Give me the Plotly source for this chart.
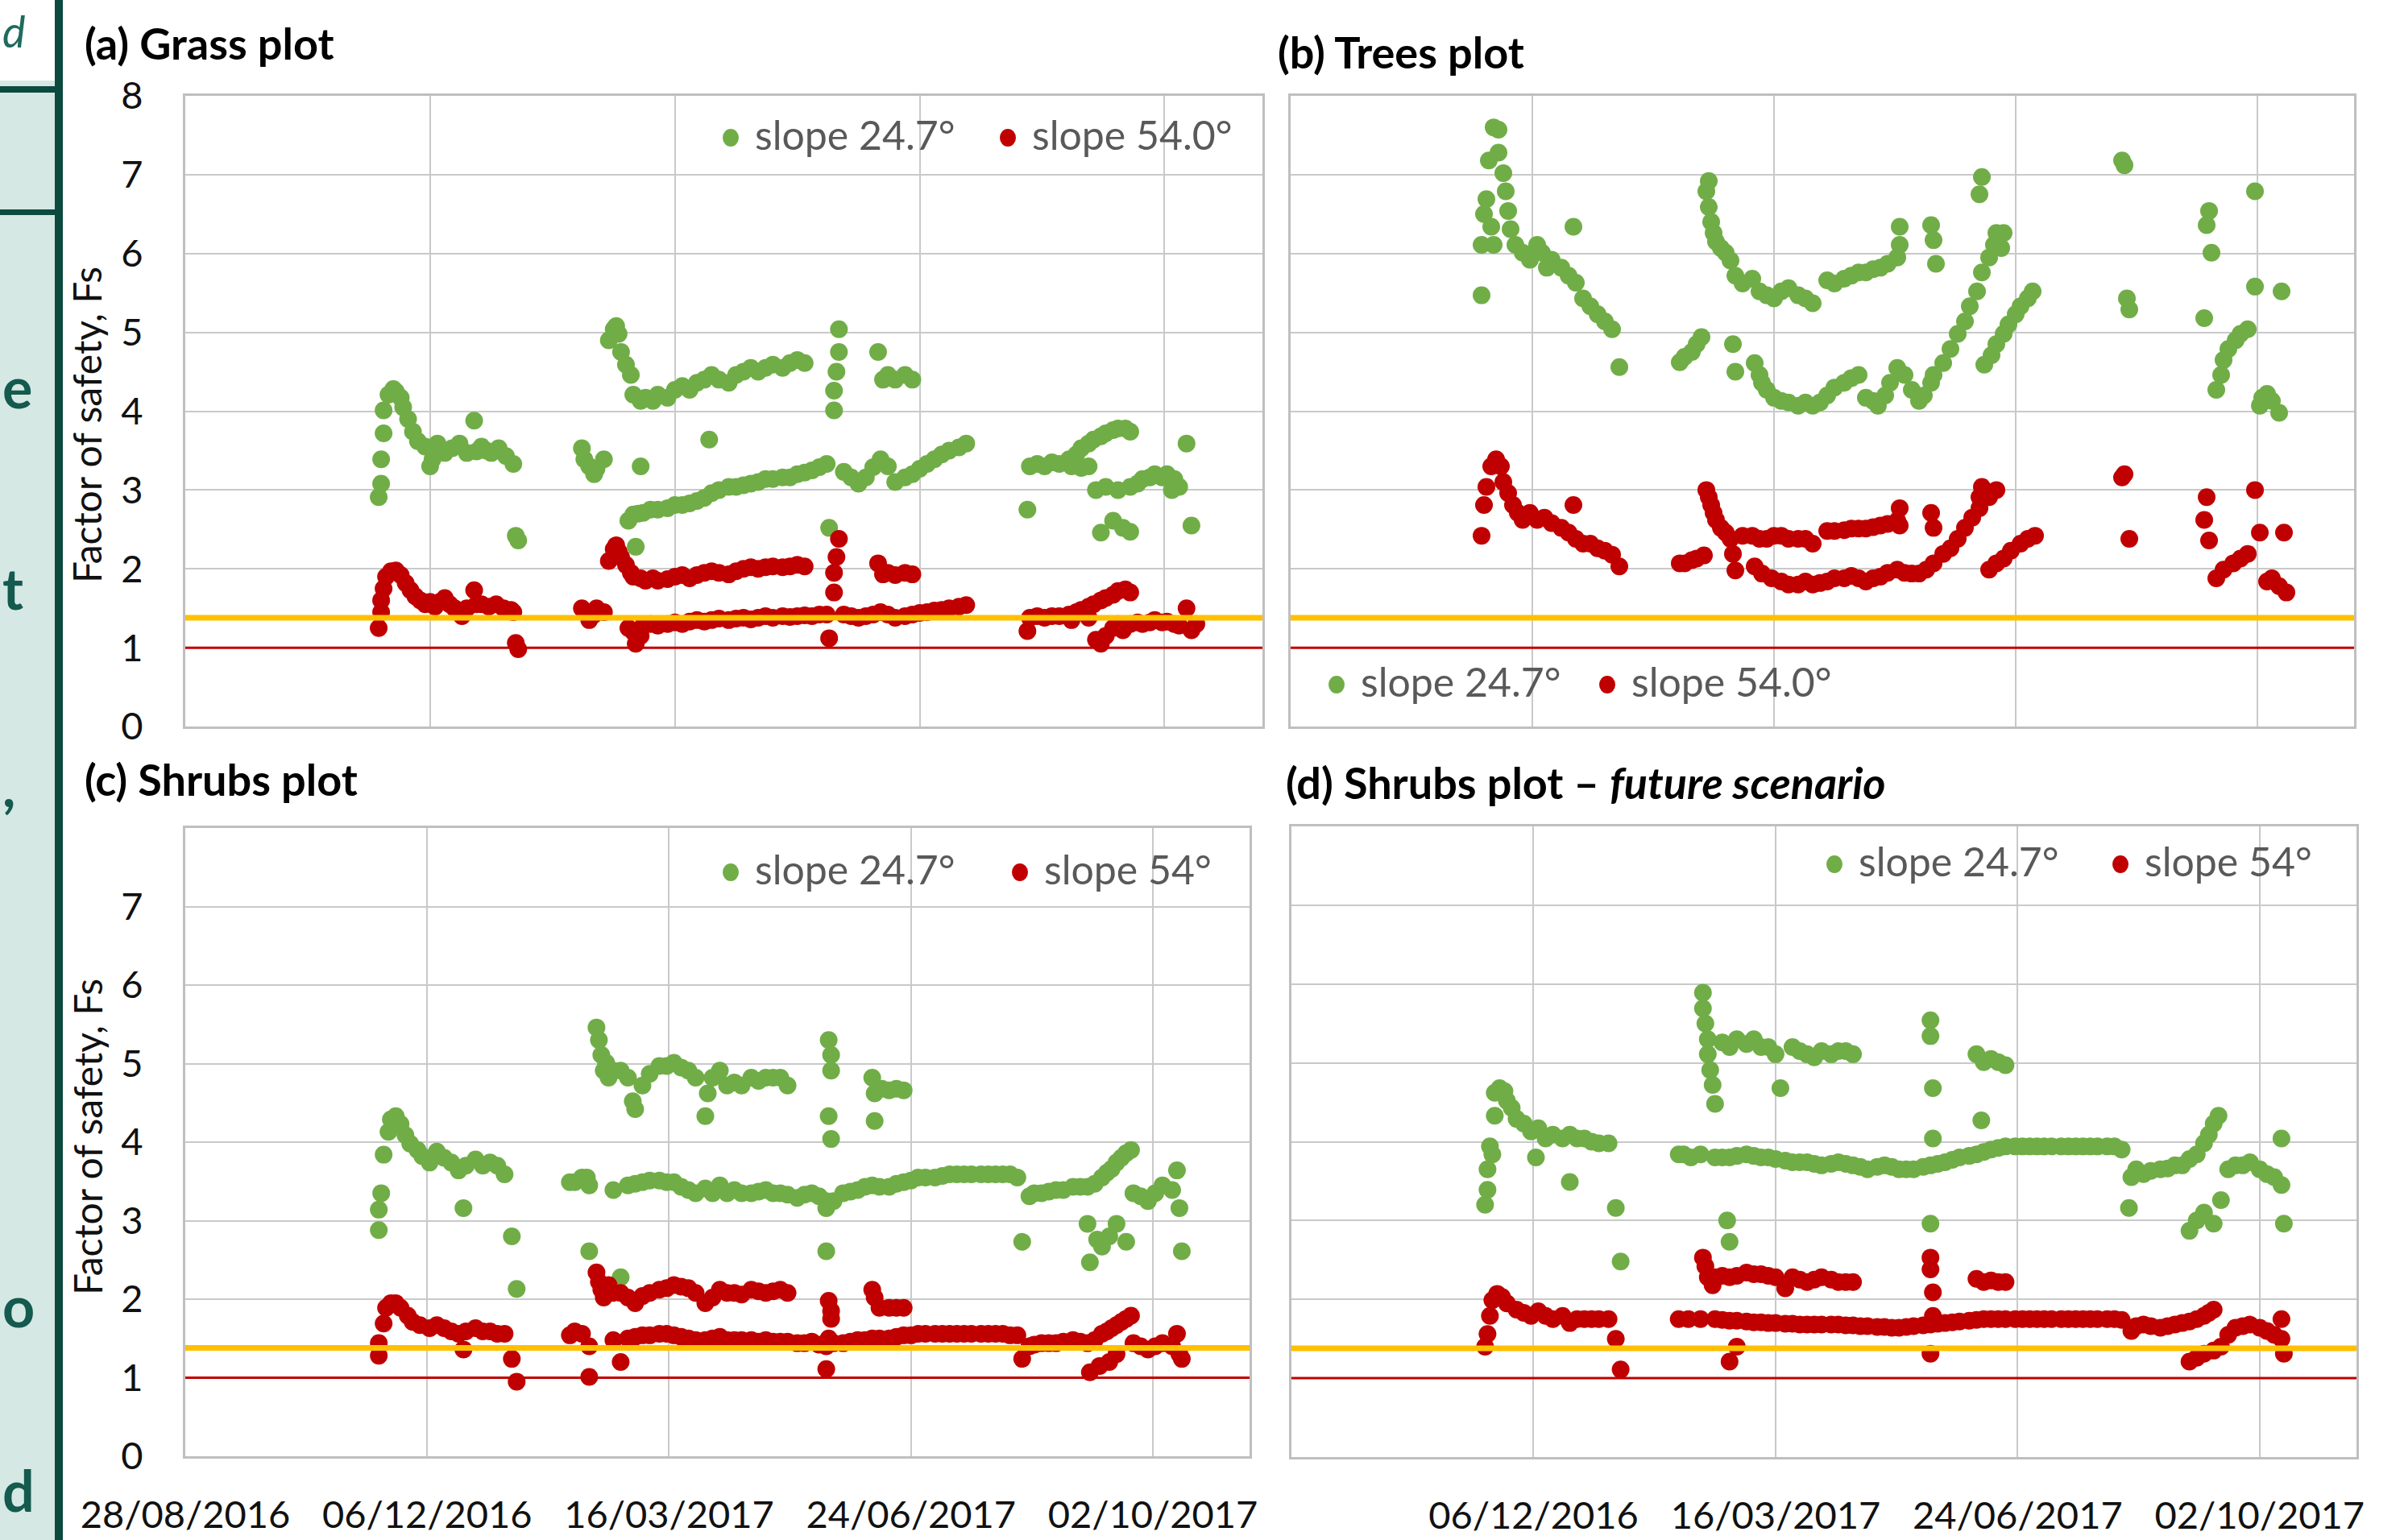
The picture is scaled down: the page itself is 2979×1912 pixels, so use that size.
import datetime as dt
import plotly.graph_objects as go

W, H = 2979, 1912
FONT = "Lato"
START = dt.date(2016, 8, 28)
END = dt.date(2017, 11, 11)
TICK_DATES = ["2016-08-28", "2016-12-06", "2017-03-16", "2017-06-24", "2017-10-02"]
FS_LIMIT = 1.0
FS_TARGET = 1.38

GREEN = "#70AD47"
RED = "#C00000"
YELLOW = "#FFC000"
GRID = "#C9C9C9"
TEAL_DARK = "#0C4A40"
TEAL_LIGHT = "#D6E8E4"

# (day after 28/08/2016, factor of safety)
grass_green = [
    (79, 2.91), (80, 3.08), (80, 3.39), (81, 3.72), (81, 4.01), (83, 4.21), (85, 4.28), (86, 4.25),
    (88, 4.17), (89, 4.05), (91, 3.90), (93, 3.74), (95, 3.62), (98, 3.55), (100, 3.30), (101, 3.39),
    (103, 3.59), (106, 3.47), (109, 3.53), (112, 3.59), (115, 3.47), (118, 3.88), (119, 3.49), (121, 3.55),
    (123, 3.50), (125, 3.47), (128, 3.53), (131, 3.43), (134, 3.33), (135, 2.42), (136, 2.36),
    (162, 3.53), (163, 3.39), (165, 3.30), (167, 3.20), (168, 3.27), (171, 3.39),
    (173, 4.90), (175, 5.04), (176, 5.08), (177, 4.98), (178, 4.75), (180, 4.59), (182, 4.46), (183, 4.21),
    (186, 4.13), (188, 4.17), (191, 4.13), (193, 4.21), (197, 4.17), (200, 4.27), (203, 4.32), (206, 4.27),
    (209, 4.36), (212, 4.40), (215, 4.46), (218, 4.40), (222, 4.36), (225, 4.46), (228, 4.50), (231, 4.55),
    (234, 4.50), (237, 4.55), (240, 4.59), (244, 4.55), (247, 4.61), (250, 4.65), (253, 4.61),
    (214, 3.64),
    (181, 2.61), (183, 2.69), (185, 2.70), (187, 2.71), (190, 2.75), (193, 2.75), (197, 2.77), (200, 2.81),
    (203, 2.81), (206, 2.83), (209, 2.86), (212, 2.90), (215, 2.96), (218, 3.00), (222, 3.04), (225, 3.04),
    (228, 3.06), (231, 3.08), (234, 3.10), (237, 3.14), (240, 3.14), (244, 3.16), (247, 3.16), (250, 3.20),
    (253, 3.22), (256, 3.25), (259, 3.29), (262, 3.33),
    (184, 2.28), (186, 3.30), (263, 2.52),
    (265, 4.01), (265, 4.26), (266, 4.50), (267, 4.75), (267, 5.04),
    (269, 3.23), (272, 3.16), (275, 3.08), (278, 3.16), (281, 3.29), (284, 3.39), (287, 3.30), (290, 3.10),
    (294, 3.16), (297, 3.20), (300, 3.27), (303, 3.33), (306, 3.39), (309, 3.45), (312, 3.50), (316, 3.54),
    (319, 3.59),
    (283, 4.75), (285, 4.40), (287, 4.46), (290, 4.40), (294, 4.46), (297, 4.40),
    (344, 2.75), (345, 3.30), (348, 3.33), (351, 3.30), (354, 3.35), (357, 3.33), (361, 3.39), (364, 3.45),
    (366, 3.53), (369, 3.59), (371, 3.64), (374, 3.68), (376, 3.72), (379, 3.76), (381, 3.78), (384, 3.78),
    (386, 3.74),
    (362, 3.30), (366, 3.28), (369, 3.30), (372, 3.00), (374, 2.46), (376, 3.04), (379, 2.61), (381, 3.00),
    (383, 2.52), (386, 2.47), (386, 3.04), (389, 3.08), (391, 3.14), (394, 3.16), (396, 3.20), (399, 3.16),
    (401, 3.20), (403, 3.00), (404, 3.14), (406, 3.04), (409, 3.59), (411, 2.55),
]
grass_red = [
    (79, 1.25), (80, 1.45), (80, 1.60), (81, 1.75), (82, 1.90), (84, 1.97), (86, 1.98), (88, 1.92),
    (90, 1.82), (92, 1.73), (94, 1.65), (96, 1.60), (98, 1.55), (100, 1.58), (102, 1.52), (104, 1.58),
    (106, 1.63), (108, 1.55), (110, 1.50), (113, 1.40), (115, 1.50), (118, 1.73), (119, 1.55), (121, 1.55),
    (124, 1.52), (127, 1.55), (130, 1.50), (133, 1.48), (134, 1.45), (135, 1.06), (136, 0.98),
    (162, 1.50), (163, 1.45), (165, 1.35), (167, 1.42), (168, 1.50), (171, 1.45),
    (173, 2.10), (175, 2.25), (176, 2.30), (177, 2.22), (178, 2.15), (180, 2.05), (182, 1.95),
    (183, 1.90), (186, 1.88), (188, 1.85), (191, 1.88), (193, 1.85), (197, 1.87), (200, 1.90), (203, 1.92),
    (206, 1.88), (209, 1.92), (212, 1.95), (215, 1.97), (218, 1.95), (222, 1.93), (225, 1.97), (228, 2.00),
    (231, 2.02), (234, 2.00), (237, 2.02), (240, 2.03), (244, 2.02), (247, 2.03), (250, 2.05), (253, 2.03),
    (181, 1.25), (183, 1.20), (184, 1.05), (186, 1.15), (187, 1.28), (190, 1.30), (193, 1.28), (197, 1.30),
    (200, 1.32), (203, 1.30), (206, 1.33), (209, 1.35), (212, 1.33), (215, 1.35), (218, 1.37), (222, 1.35),
    (225, 1.37), (228, 1.38), (231, 1.36), (234, 1.38), (237, 1.40), (240, 1.38), (244, 1.40), (247, 1.39),
    (250, 1.40), (253, 1.41), (256, 1.40), (259, 1.42), (262, 1.42), (263, 1.12),
    (265, 1.70), (265, 1.95), (266, 2.15), (267, 2.38),
    (269, 1.42), (272, 1.40), (275, 1.38), (278, 1.40), (281, 1.42), (284, 1.45), (287, 1.42), (290, 1.38),
    (294, 1.40), (297, 1.42), (300, 1.44), (303, 1.45), (306, 1.47), (309, 1.48), (312, 1.50), (316, 1.52),
    (319, 1.54),
    (283, 2.07), (285, 1.93), (287, 1.95), (290, 1.92), (294, 1.95), (297, 1.93),
    (344, 1.21), (345, 1.38), (348, 1.40), (351, 1.38), (354, 1.40), (357, 1.40), (361, 1.42), (364, 1.45),
    (366, 1.48), (369, 1.52), (371, 1.55), (374, 1.60), (376, 1.63), (379, 1.67), (381, 1.72), (384, 1.74),
    (386, 1.70),
    (362, 1.35), (369, 1.38), (372, 1.10), (374, 1.05), (376, 1.15), (379, 1.25), (381, 1.30), (383, 1.22),
    (386, 1.30), (389, 1.32), (391, 1.30), (394, 1.32), (396, 1.35), (399, 1.32), (401, 1.33), (404, 1.30),
    (406, 1.28), (409, 1.50), (411, 1.22), (413, 1.30),
]

trees_green = [
    (79, 5.47), (79, 6.11), (80, 6.50), (81, 6.69), (82, 7.18), (83, 6.34), (84, 6.11), (84, 7.60),
    (86, 7.57), (86, 7.28), (88, 7.02), (89, 6.79), (90, 6.54), (91, 6.31), (93, 6.11), (96, 6.01),
    (99, 5.92), (102, 6.11), (104, 6.01), (106, 5.82), (108, 5.92), (112, 5.82), (115, 5.72), (117, 6.34),
    (118, 5.63), (121, 5.43), (124, 5.33), (127, 5.23), (130, 5.14), (133, 5.04), (136, 4.56),
    (161, 4.62), (163, 4.69), (166, 4.75), (168, 4.85), (170, 4.94),
    (172, 6.79), (173, 6.92), (173, 6.59), (174, 6.40), (175, 6.26), (176, 6.15), (178, 6.07), (180, 6.01),
    (182, 5.91), (183, 4.85), (184, 4.50),
    (184, 5.72), (187, 5.62), (191, 5.68), (194, 5.52), (197, 5.47), (200, 5.43), (203, 5.52), (206, 5.56),
    (210, 5.47), (213, 5.43), (216, 5.37),
    (192, 4.61), (194, 4.46), (195, 4.36), (197, 4.27), (200, 4.17), (203, 4.13), (206, 4.11), (210, 4.07),
    (213, 4.11), (216, 4.07), (219, 4.11), (222, 4.20), (225, 4.30), (229, 4.36), (232, 4.42), (235, 4.46),
    (238, 4.17), (241, 4.13), (243, 4.07), (246, 4.20), (248, 4.36), (251, 4.55), (254, 4.46), (257, 4.27),
    (260, 4.13), (262, 4.20), (265, 4.36), (266, 4.46), (270, 4.61), (273, 4.79), (276, 4.98), (279, 5.14),
    (281, 5.33), (284, 5.52), (286, 5.76), (289, 5.95), (291, 6.11), (292, 6.26),
    (222, 5.66), (225, 5.62), (229, 5.68), (232, 5.72), (235, 5.76), (238, 5.76), (241, 5.80), (244, 5.82),
    (247, 5.87), (251, 5.95), (252, 6.34), (252, 6.11),
    (265, 6.36), (266, 6.17), (267, 5.87), (286, 6.97), (285, 6.75), (295, 6.26), (294, 6.07),
    (287, 4.59), (290, 4.71), (292, 4.85), (295, 4.98), (297, 5.10), (300, 5.23), (302, 5.33), (305, 5.43),
    (307, 5.52),
    (344, 7.18), (345, 7.12), (346, 5.43), (347, 5.29),
    (378, 5.18), (379, 6.36), (380, 6.54), (381, 6.01), (383, 4.27), (385, 4.46), (386, 4.65), (388, 4.79),
    (391, 4.90), (393, 4.98), (396, 5.04), (399, 6.79), (399, 5.58), (401, 4.07), (402, 4.17), (404, 4.22),
    (406, 4.13), (409, 3.98), (410, 5.52),
]
trees_red = [
    (79, 2.42), (80, 2.81), (81, 3.04), (83, 3.30), (85, 3.39), (87, 3.30), (88, 3.10), (90, 2.96),
    (92, 2.81), (94, 2.71), (96, 2.62), (99, 2.71), (102, 2.62), (105, 2.65), (108, 2.58), (112, 2.52),
    (115, 2.46), (117, 2.81), (118, 2.38), (121, 2.32), (124, 2.32), (127, 2.26), (130, 2.23), (133, 2.18),
    (136, 2.03),
    (161, 2.07), (163, 2.07), (166, 2.11), (168, 2.13), (171, 2.17), (172, 3.00), (173, 2.91), (174, 2.81),
    (175, 2.71), (176, 2.62), (178, 2.52), (180, 2.46), (182, 2.38), (183, 2.19), (184, 1.98),
    (187, 2.42), (191, 2.42), (194, 2.38), (197, 2.38), (200, 2.42), (203, 2.42), (206, 2.38), (210, 2.38),
    (213, 2.38), (216, 2.32),
    (192, 2.03), (195, 1.94), (199, 1.88), (203, 1.84), (206, 1.80), (210, 1.80), (213, 1.84), (216, 1.80),
    (219, 1.82), (222, 1.84), (225, 1.88), (229, 1.88), (232, 1.91), (235, 1.88), (238, 1.84), (241, 1.88),
    (244, 1.90), (247, 1.95), (251, 1.99), (254, 1.95), (257, 1.94), (260, 1.94), (263, 1.99), (266, 2.07),
    (270, 2.19), (273, 2.26), (276, 2.38), (279, 2.52), (282, 2.65), (285, 2.77), (289, 2.91), (292, 3.00),
    (222, 2.48), (225, 2.48), (229, 2.49), (232, 2.51), (235, 2.51), (238, 2.51), (241, 2.53), (244, 2.55),
    (247, 2.57), (251, 2.61), (252, 2.77), (252, 2.55),
    (265, 2.71), (266, 2.52), (286, 3.04), (285, 2.91),
    (289, 1.99), (292, 2.07), (295, 2.13), (298, 2.23), (302, 2.32), (305, 2.38), (308, 2.42),
    (344, 3.16), (345, 3.20), (347, 2.38),
    (378, 2.62), (379, 2.91), (380, 2.36), (383, 1.88), (386, 1.99), (390, 2.07), (393, 2.13), (396, 2.19),
    (399, 3.00), (401, 2.46), (404, 1.84), (406, 1.88), (409, 1.78), (411, 2.46), (412, 1.70),
]

shrubs_green = [
    (80, 2.88), (80, 3.14), (81, 3.35), (82, 3.84), (84, 4.13), (85, 4.29), (87, 4.33), (89, 4.23),
    (91, 4.09), (93, 3.98), (96, 3.90), (98, 3.82), (101, 3.74), (104, 3.88), (107, 3.80), (110, 3.74),
    (113, 3.64), (115, 3.16), (116, 3.70), (120, 3.78), (123, 3.70), (126, 3.74), (129, 3.70), (132, 3.59),
    (135, 2.80), (137, 2.13),
    (159, 3.49), (161, 3.49), (164, 3.55), (166, 3.55), (167, 3.45), (167, 2.61),
    (170, 5.46), (171, 5.30), (172, 5.11), (173, 4.91), (174, 5.01), (175, 4.82), (177, 4.91), (180, 4.91),
    (183, 4.82), (185, 4.52), (186, 4.42), (189, 4.72), (192, 4.87), (196, 4.97), (199, 4.97), (202, 5.01),
    (205, 4.95), (208, 4.91), (211, 4.82), (215, 4.33), (216, 4.62), (218, 4.82), (221, 4.91), (224, 4.72),
    (227, 4.76), (230, 4.72), (234, 4.82), (237, 4.78), (240, 4.82), (243, 4.82), (246, 4.82), (249, 4.72),
    (177, 3.39), (180, 2.28), (183, 3.45), (186, 3.47), (189, 3.49), (192, 3.51), (196, 3.51), (199, 3.49),
    (202, 3.49), (205, 3.43), (208, 3.39), (211, 3.35), (215, 3.41), (218, 3.35), (221, 3.45), (224, 3.35),
    (227, 3.39), (230, 3.35), (234, 3.35), (237, 3.37), (240, 3.39), (243, 3.35), (246, 3.35), (249, 3.33),
    (253, 3.29), (256, 3.33), (259, 3.35), (262, 3.31), (265, 3.25),
    (266, 5.30), (267, 5.11), (267, 4.91), (266, 4.33), (267, 4.04), (265, 3.16), (265, 2.61),
    (268, 3.25), (272, 3.35), (275, 3.37), (278, 3.39), (281, 3.43), (284, 3.45), (287, 3.43), (291, 3.43),
    (294, 3.47), (297, 3.49), (300, 3.51), (303, 3.55), (306, 3.55), (310, 3.55), (313, 3.57), (316, 3.59),
    (319, 3.59), (322, 3.59), (325, 3.59), (329, 3.59), (332, 3.59), (335, 3.59), (338, 3.59), (341, 3.59),
    (344, 3.55),
    (284, 4.82), (285, 4.62), (285, 4.27), (288, 4.68), (291, 4.66), (294, 4.68), (297, 4.66),
    (346, 2.73), (349, 3.31), (351, 3.35), (354, 3.35), (357, 3.37), (360, 3.39), (363, 3.39), (367, 3.43),
    (370, 3.43), (373, 3.43), (376, 3.47), (379, 3.55), (381, 3.61), (383, 3.66), (385, 3.74), (387, 3.80),
    (389, 3.86), (391, 3.90),
    (373, 2.96), (374, 2.47), (377, 2.76), (379, 2.67), (382, 2.80), (385, 2.96), (389, 2.73), (392, 3.35),
    (395, 3.31), (398, 3.25), (401, 3.35), (404, 3.45), (408, 3.39), (410, 3.64), (411, 3.16), (412, 2.61),
]
shrubs_red = [
    (80, 1.28), (80, 1.44), (82, 1.69), (83, 1.89), (85, 1.95), (87, 1.95), (89, 1.89), (92, 1.79),
    (94, 1.71), (97, 1.67), (101, 1.63), (104, 1.67), (107, 1.63), (110, 1.59), (113, 1.56), (115, 1.36),
    (116, 1.59), (120, 1.63), (123, 1.59), (126, 1.59), (129, 1.56), (132, 1.56), (135, 1.24), (137, 0.95),
    (159, 1.54), (161, 1.59), (164, 1.56), (167, 1.40), (167, 1.01),
    (170, 2.34), (171, 2.22), (172, 2.12), (173, 2.02), (175, 2.18), (177, 2.08), (180, 2.08), (183, 2.02),
    (186, 1.95), (189, 2.04), (192, 2.08), (196, 2.12), (199, 2.14), (202, 2.18), (205, 2.16), (208, 2.14),
    (211, 2.08), (215, 1.95), (218, 2.02), (221, 2.12), (224, 2.08), (227, 2.08), (230, 2.06), (234, 2.12),
    (237, 2.10), (240, 2.08), (243, 2.10), (246, 2.12), (249, 2.08),
    (177, 1.48), (180, 1.20), (183, 1.50), (186, 1.52), (189, 1.54), (192, 1.54), (196, 1.56), (199, 1.56),
    (202, 1.54), (205, 1.52), (208, 1.50), (211, 1.48), (215, 1.48), (218, 1.50), (221, 1.52), (224, 1.48),
    (227, 1.48), (230, 1.48), (234, 1.48), (237, 1.46), (240, 1.48), (243, 1.46), (246, 1.46), (249, 1.46),
    (253, 1.44), (256, 1.44), (259, 1.46), (262, 1.42), (265, 1.40),
    (266, 1.98), (267, 1.85), (267, 1.75), (266, 1.50), (265, 1.11),
    (268, 1.44), (272, 1.44), (275, 1.46), (278, 1.48), (281, 1.48), (284, 1.50), (287, 1.50), (291, 1.50),
    (294, 1.52), (297, 1.54), (300, 1.54), (303, 1.56), (306, 1.56), (310, 1.56), (313, 1.56), (316, 1.56),
    (319, 1.56), (322, 1.56), (325, 1.56), (329, 1.56), (332, 1.56), (335, 1.56), (338, 1.56), (341, 1.54),
    (344, 1.54),
    (284, 2.12), (285, 2.02), (287, 1.89), (291, 1.89), (294, 1.89), (297, 1.89),
    (346, 1.24), (349, 1.40), (351, 1.42), (354, 1.44), (357, 1.44), (360, 1.44), (363, 1.46), (367, 1.48),
    (370, 1.46), (373, 1.44), (376, 1.48), (379, 1.56), (381, 1.59), (383, 1.63), (385, 1.67), (387, 1.71),
    (389, 1.75), (391, 1.79),
    (374, 1.07), (378, 1.15), (382, 1.20), (385, 1.30), (392, 1.44), (395, 1.40), (398, 1.36), (401, 1.40),
    (404, 1.44), (408, 1.40), (410, 1.56), (411, 1.30), (412, 1.24),
]

future_green = [
    (80, 3.20), (81, 3.39), (81, 3.65), (82, 3.94), (83, 3.84), (84, 4.33), (84, 4.62), (86, 4.68),
    (88, 4.64), (89, 4.52), (91, 4.43), (93, 4.29), (96, 4.23), (99, 4.13), (101, 3.80), (102, 4.17),
    (105, 4.04), (108, 4.09), (112, 4.04), (115, 4.09), (115, 3.49), (118, 4.04), (121, 4.04), (124, 4.00),
    (127, 3.98), (131, 3.98), (134, 3.16), (136, 2.48),
    (160, 3.84), (162, 3.84), (165, 3.80), (169, 3.84),
    (170, 5.89), (170, 5.69), (171, 5.50), (172, 5.30), (172, 5.11), (173, 4.91), (174, 4.72), (175, 4.48),
    (178, 5.26), (181, 5.20), (184, 5.30), (188, 5.24), (191, 5.30), (194, 5.20), (197, 5.20), (200, 5.11),
    (202, 4.68), (207, 5.20), (210, 5.15), (213, 5.11), (216, 5.07), (219, 5.15), (223, 5.11), (226, 5.15),
    (229, 5.15), (232, 5.11),
    (180, 3.00), (181, 2.73),
    (175, 3.80), (178, 3.80), (181, 3.80), (184, 3.82), (188, 3.84), (191, 3.82), (194, 3.80), (197, 3.80),
    (200, 3.78), (204, 3.76), (207, 3.74), (210, 3.74), (213, 3.74), (216, 3.72), (219, 3.70), (223, 3.72),
    (226, 3.74), (229, 3.72), (232, 3.70), (235, 3.68), (238, 3.65), (242, 3.68), (245, 3.70), (248, 3.68),
    (251, 3.65), (254, 3.65), (257, 3.65), (261, 3.68), (264, 3.70), (267, 3.72), (270, 3.74), (273, 3.77),
    (276, 3.80), (280, 3.82), (283, 3.84), (286, 3.87), (289, 3.90), (292, 3.92), (295, 3.94), (299, 3.94),
    (302, 3.94), (305, 3.94), (308, 3.94), (311, 3.94), (314, 3.94), (318, 3.94), (321, 3.94), (324, 3.94),
    (327, 3.94), (330, 3.94), (333, 3.94), (337, 3.94), (340, 3.94), (343, 3.90),
    (264, 5.54), (264, 5.34), (265, 4.68), (265, 4.04), (264, 2.96),
    (283, 5.11), (286, 5.01), (289, 5.05), (292, 5.01), (295, 4.97), (285, 4.27),
    (346, 3.16), (347, 3.55), (349, 3.65), (352, 3.59), (355, 3.63), (359, 3.65), (362, 3.66), (365, 3.70),
    (368, 3.70), (371, 3.78), (374, 3.84), (377, 3.98), (379, 4.09), (381, 4.23), (383, 4.33),
    (371, 2.87), (374, 3.00), (377, 3.10), (381, 2.96), (384, 3.26), (387, 3.65), (390, 3.70), (393, 3.70),
    (396, 3.74), (400, 3.65), (403, 3.59), (406, 3.55), (409, 3.45), (409, 4.04), (410, 2.96),
]
future_red = [
    (80, 1.40), (81, 1.56), (82, 1.79), (83, 1.99), (85, 2.07), (87, 2.03), (89, 1.95), (93, 1.87),
    (96, 1.83), (99, 1.79), (102, 1.85), (105, 1.79), (108, 1.75), (112, 1.79), (115, 1.70), (118, 1.75),
    (121, 1.75), (124, 1.75), (127, 1.75), (131, 1.75), (134, 1.50), (136, 1.11),
    (160, 1.75), (164, 1.75), (169, 1.75),
    (170, 2.53), (171, 2.42), (172, 2.28), (174, 2.18), (175, 2.28), (178, 2.30), (181, 2.28), (184, 2.30),
    (188, 2.34), (191, 2.32), (194, 2.32), (197, 2.30), (200, 2.28), (204, 2.14), (207, 2.28), (210, 2.25),
    (213, 2.22), (216, 2.25), (219, 2.28), (223, 2.25), (226, 2.22), (229, 2.22), (232, 2.22),
    (181, 1.21), (184, 1.40),
    (175, 1.75), (178, 1.74), (181, 1.73), (184, 1.73), (188, 1.72), (191, 1.71), (194, 1.71), (197, 1.70),
    (200, 1.70), (204, 1.69), (207, 1.69), (210, 1.68), (213, 1.68), (216, 1.68), (219, 1.68), (223, 1.68),
    (226, 1.68), (229, 1.67), (232, 1.67), (235, 1.66), (238, 1.66), (242, 1.65), (245, 1.65), (248, 1.64),
    (251, 1.64), (254, 1.65), (257, 1.66), (261, 1.67), (264, 1.68), (267, 1.69), (270, 1.70), (273, 1.71),
    (276, 1.72), (280, 1.73), (283, 1.74), (286, 1.75), (289, 1.75), (292, 1.75), (295, 1.75), (299, 1.75),
    (302, 1.75), (305, 1.75), (308, 1.75), (311, 1.75), (314, 1.75), (318, 1.75), (321, 1.75), (324, 1.75),
    (327, 1.75), (330, 1.75), (333, 1.75), (337, 1.75), (340, 1.75), (343, 1.74),
    (264, 2.53), (264, 2.38), (265, 2.09), (265, 1.79), (264, 1.31),
    (283, 2.26), (286, 2.22), (289, 2.24), (292, 2.22), (295, 2.22),
    (347, 1.60), (349, 1.66), (352, 1.68), (355, 1.66), (359, 1.64), (362, 1.66), (365, 1.68), (368, 1.70),
    (371, 1.72), (374, 1.75), (377, 1.79), (379, 1.83), (381, 1.87),
    (371, 1.21), (374, 1.26), (377, 1.31), (381, 1.35), (384, 1.40), (387, 1.55), (390, 1.64), (393, 1.66),
    (396, 1.68), (400, 1.64), (403, 1.60), (406, 1.55), (409, 1.50), (409, 1.75), (410, 1.31),
]


def px(x):
    return x / W


def py(y):
    return 1 - y / H


def split(pairs):
    days = [START + dt.timedelta(days=d) for d, _ in pairs]
    vals = [v for _, v in pairs]
    return days, vals


# panel boxes in pixels: (left, right), (top, bottom)
panels = [
    dict(green=grass_green, red=grass_red, box=((230, 1567), (119, 902)),
         xlabels=None, ylabels=[str(i) for i in range(9)]),
    dict(green=trees_green, red=trees_red, box=((1602, 2922), (119, 902)),
         xlabels=None, ylabels=None),
    dict(green=shrubs_green, red=shrubs_red, box=((230, 1551), (1028, 1808)),
         xlabels=["28/08/2016", "06/12/2016", "16/03/2017", "24/06/2017", "02/10/2017"],
         ylabels=[str(i) for i in range(8)] + [""]),
    dict(green=future_green, red=future_red, box=((1603, 2925), (1026, 1809)),
         xlabels=["", "06/12/2016", "16/03/2017", "24/06/2017", "02/10/2017"],
         ylabels=None),
]

fig = go.Figure()
layout = {}
tick_font = dict(family=FONT, size=47, color="#111111")

for i, p in enumerate(panels, start=1):
    sx = "" if i == 1 else str(i)
    (x0, x1), (y0, y1) = p["box"]
    gd, gv = split(p["green"])
    rd, rv = split(p["red"])
    marker_kw = dict(size=22, line=dict(width=0))
    fig.add_trace(go.Scatter(x=gd, y=gv, mode="markers", name="slope 24.7°",
                             marker=dict(color=GREEN, **marker_kw),
                             xaxis="x" + sx, yaxis="y" + sx, showlegend=False))
    fig.add_trace(go.Scatter(x=rd, y=rv, mode="markers", name="slope 54°",
                             marker=dict(color=RED, **marker_kw),
                             xaxis="x" + sx, yaxis="y" + sx, showlegend=False))
    for level, colour, width in ((FS_LIMIT, RED, 3), (FS_TARGET, YELLOW, 7)):
        fig.add_trace(go.Scatter(x=[START, END], y=[level, level], mode="lines",
                                 line=dict(color=colour, width=width),
                                 xaxis="x" + sx, yaxis="y" + sx, showlegend=False,
                                 hoverinfo="skip"))
    layout["xaxis" + sx] = dict(
        domain=[px(x0), px(x1)], anchor="y" + sx, type="date",
        range=[START, END], tickvals=TICK_DATES,
        ticktext=p["xlabels"] if p["xlabels"] else [""] * 5,
        showticklabels=p["xlabels"] is not None,
        showgrid=True, gridcolor=GRID, gridwidth=2,
        showline=True, mirror=True, linecolor="#BFBFBF", linewidth=3,
        zeroline=False, ticks="", tickfont=tick_font, ticklabelstandoff=30,
        automargin=False, fixedrange=True,
    )
    layout["yaxis" + sx] = dict(
        domain=[py(y1), py(y0)], anchor="x" + sx, range=[0, 8],
        tickvals=list(range(9)),
        ticktext=p["ylabels"] if p["ylabels"] else [""] * 9,
        showticklabels=p["ylabels"] is not None,
        showgrid=True, gridcolor=GRID, gridwidth=2,
        showline=True, mirror=True, linecolor="#BFBFBF", linewidth=3,
        zeroline=False, ticks="", tickfont=tick_font, ticklabelstandoff=40,
        automargin=False, fixedrange=True,
    )

annotations = []
shapes = []


def note(text, x, y, size, color="#000000", xanchor="left", angle=0, **kw):
    annotations.append(dict(text=text, x=px(x), y=py(y), xref="paper", yref="paper",
                            xanchor=xanchor, yanchor="middle", showarrow=False,
                            textangle=angle, font=dict(family=FONT, size=size, color=color), **kw))


# panel titles
note("<b>(a) Grass plot</b>", 103, 53, 54)
note("<b>(b) Trees plot</b>", 1584, 65, 54)
note("<b>(c) Shrubs plot</b>", 103, 967, 54)
note("<b>(d) Shrubs plot – <i>future scenario</i></b>", 1594, 971, 54)

# y-axis titles
note("Factor of safety, Fs", 108, 528, 48, color="#111111", xanchor="center", angle=-90)
note("Factor of safety, Fs", 108, 1412, 48, color="#111111", xanchor="center", angle=-90)

# legends: (marker centre x, centre y, colour, label)
legend_items = [
    (907, 171, GREEN, "slope 24.7°"), (1251, 171, RED, "slope 54.0°"),
    (1659, 850, GREEN, "slope 24.7°"), (1995, 850, RED, "slope 54.0°"),
    (907, 1083, GREEN, "slope 24.7°"), (1266, 1083, RED, "slope 54°"),
    (2277, 1073, GREEN, "slope 24.7°"), (2632, 1073, RED, "slope 54°"),
]
for cx, cy, colour, label in legend_items:
    shapes.append(dict(type="circle", xref="paper", yref="paper",
                       x0=px(cx - 10), x1=px(cx + 10), y0=py(cy + 11), y1=py(cy - 11),
                       fillcolor=colour, line=dict(width=0)))
    note(label, cx + 28, cy - 4, 50, color="#595959")

# side panel of the page
shapes += [
    dict(type="rect", xref="paper", yref="paper", x0=0, x1=px(72), y0=0, y1=1,
         fillcolor=TEAL_LIGHT, line=dict(width=0), layer="below"),
    dict(type="rect", xref="paper", yref="paper", x0=0, x1=px(68), y0=py(100), y1=1,
         fillcolor="white", line=dict(width=0), layer="below"),
    dict(type="rect", xref="paper", yref="paper", x0=px(68), x1=px(78), y0=0, y1=1,
         fillcolor=TEAL_DARK, line=dict(width=0)),
    dict(type="rect", xref="paper", yref="paper", x0=0, x1=px(78), y0=py(115), y1=py(107),
         fillcolor=TEAL_DARK, line=dict(width=0)),
    dict(type="rect", xref="paper", yref="paper", x0=0, x1=px(78), y0=py(267), y1=py(260),
         fillcolor=TEAL_DARK, line=dict(width=0)),
]
note("<i>d</i>", 1, 38, 54, color="#1F6B5E")
for ch, yc in (("e", 480), ("t", 730), (",", 975), ("o", 1621), ("d", 1850)):
    note("<b>%s</b>" % ch, 1, yc, 70, color="#145A4E")

fig.update_layout(
    width=W, height=H, margin=dict(l=0, r=0, t=0, b=0, autoexpand=False),
    paper_bgcolor="white", plot_bgcolor="white",
    showlegend=False, annotations=annotations, shapes=shapes,
    font=dict(family=FONT), **layout,
)

fig.write_html("out.html")
